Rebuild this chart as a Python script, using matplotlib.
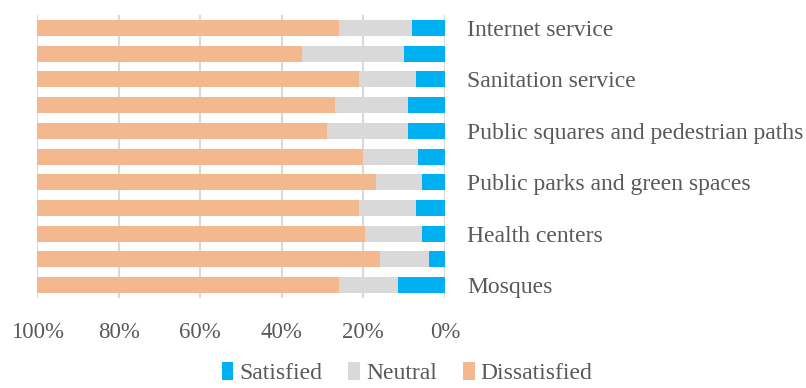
import numpy as np
import matplotlib.pyplot as plt

# categories listed top to bottom
categories = ["Internet service", "Electricity service", "Sanitation service",
              "Water service", "Public squares and pedestrian paths", "Roads",
              "Public parks and green spaces", "Schools", "Health centers",
              "Markets", "Mosques"]
satisfied = [8, 10, 7, 9, 9, 6.5, 5.5, 7, 5.5, 4, 11.5]
neutral = [18, 25, 14, 18, 20, 13.5, 11.5, 14, 14, 12, 14.5]
dissatisfied = [74, 65, 79, 73, 71, 80, 83, 79, 80.5, 84, 74]
xticks = [0, 20, 40, 60, 80, 100]

plt.rcParams['font.family'] = ['Liberation Serif', 'DejaVu Serif']

fig = plt.figure(figsize=(8.06, 3.88), dpi=100)
ax = fig.add_axes([0.046, 0.232, 0.506, 0.729])

y = np.arange(len(categories))
sat = np.array(satisfied)
neu = np.array(neutral)
dis = np.array(dissatisfied)
h = 0.62
ax.barh(y, sat, height=h, color='#00B0F0', label='Satisfied', zorder=2)
ax.barh(y, neu, left=sat, height=h, color='#D9D9D9', label='Neutral', zorder=2)
ax.barh(y, dis, left=sat + neu, height=h, color='#F4B88E', label='Dissatisfied', zorder=2)

ax.set_xlim(100, 0)
ax.set_ylim(len(categories) - 0.5, -0.5)
ax.set_xticks(xticks)
ax.set_xticklabels([f"{t}%" for t in xticks])
ax.grid(axis='x', color='#D9D9D9', linewidth=1.5, zorder=0)
for s in ax.spines.values():
    s.set_visible(False)

ax.yaxis.tick_right()
ax.set_yticks(y[::-2])
ax.set_yticklabels([categories[i] for i in y[::-2]])
ax.tick_params(axis='y', length=0, pad=16, labelsize=17, labelcolor='#595959')
ax.tick_params(axis='x', length=0, pad=17, labelsize=16.5, labelcolor='#595959')

fig.legend(loc='lower center', bbox_to_anchor=(0.505, -0.045), ncol=3, frameon=False,
           fontsize=17, labelcolor='#595959', handlelength=0.5, handleheight=0.8,
           handletextpad=0.25, columnspacing=1.1)

fig.savefig('out.png', dpi=100)
